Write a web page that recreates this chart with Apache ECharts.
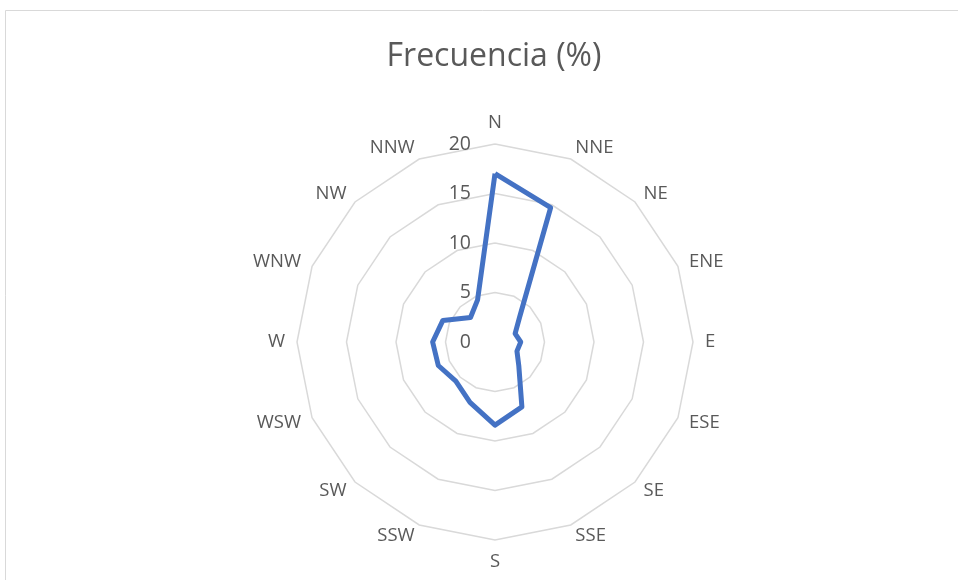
<!DOCTYPE html>
<html>
<head>
<meta charset="utf-8">
<script src="https://cdn.jsdelivr.net/npm/echarts@6/dist/echarts.min.js"></script>
<style>
  html, body { margin: 0; padding: 0; background: #fff; }
  #chart { width: 958px; height: 580px; }
</style>
</head>
<body>
<div id="chart"></div>
<script>
// wind directions, clockwise from north
var directions = ['N', 'NNE', 'NE', 'ENE', 'E', 'ESE', 'SE', 'SSE',
                  'S', 'SSW', 'SW', 'WSW', 'W', 'WNW', 'NW', 'NNW'];
// frequency (%) per direction
var frequency = [17.0, 14.7, 3.5, 2.2, 2.6, 2.4, 3.4, 7.1,
                 8.4, 6.6, 5.6, 6.2, 6.3, 5.7, 3.5, 4.6];
var maxValue = 20;

var textColor = '#595959';
var fontFamily = '"Open Sans", "Liberation Sans", sans-serif';

// radar goes counterclockwise, so walk the directions backwards after N
var order = [0];
for (var i = directions.length - 1; i > 0; i--) {
    order.push(i);
}
var indicators = order.map(function (idx, k) {
    var ind = {name: directions[idx], max: maxValue, min: 0};
    if (k === 0) {
        ind.axisLabel = {show: true};
    }
    return ind;
});
var values = order.map(function (idx) { return frequency[idx]; });

var chart = echarts.init(document.getElementById('chart'));
chart.setOption({
    animation: false,
    backgroundColor: '#fff',
    title: {
        text: 'Frecuencia (%)',
        left: 489,
        top: 36,
        textAlign: 'center',
        textStyle: {
            color: textColor,
            fontFamily: fontFamily,
            fontWeight: 'normal',
            fontSize: 32
        }
    },
    graphic: [{
        type: 'rect',
        shape: {x: 5.5, y: 10.5, width: 1000, height: 600},
        style: {fill: 'none', stroke: '#d9d9d9', lineWidth: 1},
        silent: true
    }],
    radar: {
        center: [495, 342],
        radius: 198,
        startAngle: 90,
        splitNumber: 4,
        shape: 'polygon',
        indicator: indicators,
        axisName: {
            color: textColor,
            fontFamily: fontFamily,
            fontSize: 18.5
        },
        nameGap: 12,
        axisLine: {show: false},
        axisTick: {show: false},
        axisLabel: {
            show: false,
            color: textColor,
            fontFamily: fontFamily,
            fontSize: 19.5,
            margin: 24
        },
        splitLine: {lineStyle: {color: '#d9d9d9', width: 1.5}},
        splitArea: {show: false}
    },
    series: [{
        type: 'radar',
        symbol: 'none',
        lineStyle: {color: '#4472C4', width: 5},
        data: [{value: values, name: 'Frecuencia (%)'}]
    }]
});
</script>
</body>
</html>
